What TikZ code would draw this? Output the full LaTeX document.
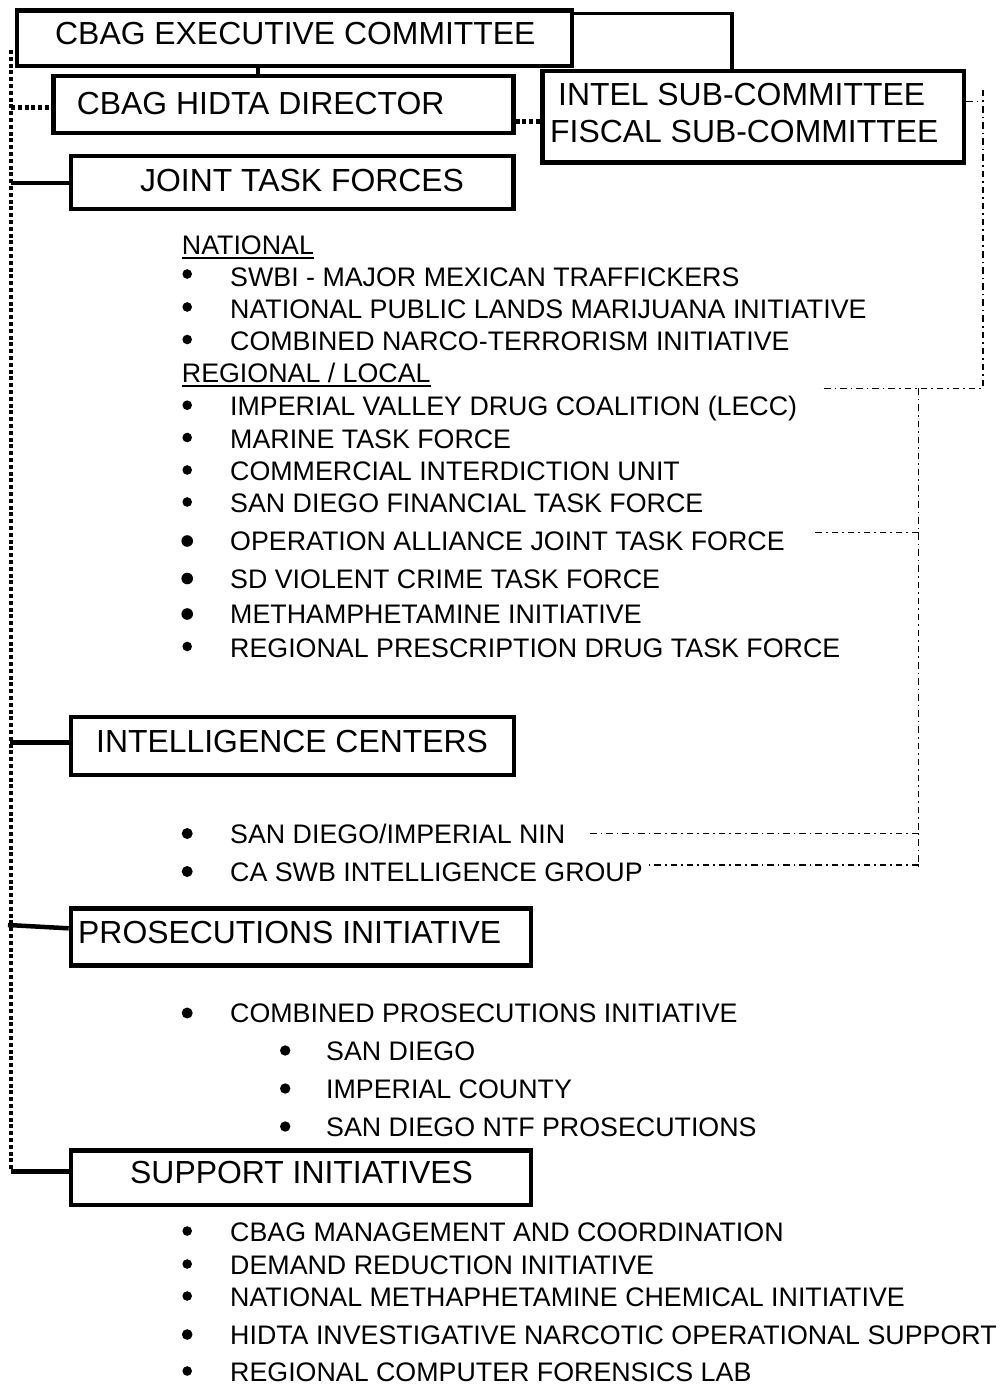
\documentclass[tikz,border=0pt]{standalone}
\usepackage{fontspec}
\setmainfont{Liberation Sans}
\newsavebox\ulbox
\newcommand\ulin[1]{\sbox\ulbox{#1}\rlap{\rule[-4.8pt]{\wd\ulbox}{2.2pt}}\usebox\ulbox}
% bullet: #1 radius, #2 raise of centre above baseline, #3 distance of centre left of text
\newcommand\bul[3]{\llap{\tikz[baseline=0pt]\fill (0pt,#2) circle[radius=#1];\hspace{\dimexpr#3-#1\relax}}}
\newcommand\titlefont{\fontsize{31.9pt}{36pt}\selectfont}
\newcommand\itemfont{\fontsize{26.8pt}{30pt}\selectfont}
\tikzset{
  box/.style={draw, line width=4.6pt, inner sep=0pt},
  ttl/.style={anchor=base west, inner sep=0pt, font=\titlefont},
  itm/.style={anchor=base west, inner sep=0pt, font=\itemfont},
  solidlink/.style={line width=4.5pt},
  thinlink/.style={line width=3.2pt},
  dotlink/.style={line width=4.8pt, dash pattern=on 4pt off 2.8pt},
  ddlink/.style={line width=1.5pt, dash pattern=on 6.5pt off 4pt on 1.6pt off 4pt},
}
\begin{document}
\begin{tikzpicture}[x=1pt,y=-1pt]
\useasboundingbox (0,0) rectangle (1007,1386);
% boxes
\node[box, minimum width=555pt, minimum height=55.7pt] (exec) at (294.5,38.2) {};
\node[box, minimum width=459.6pt, minimum height=57pt] (hidta) at (283.5,104.5) {};
\node[box, minimum width=442.3pt, minimum height=53pt] (jtf) at (292.2,182.5) {};
\node[box, minimum width=421.5pt, minimum height=91.5pt] (intel) at (753.3,116.8) {};
\node[box, minimum width=442.8pt, minimum height=58pt] (ic) at (292.4,746) {};
\node[box, minimum width=460pt, minimum height=57pt] (pros) at (301,937.2) {};
\node[box, minimum width=460pt, minimum height=54.5pt] (sup) at (301,1177.8) {};
% titles
\node[ttl] (exect) at (55,44.7) {CBAG EXECUTIVE COMMITTEE};
\node[ttl] (hidtat) at (76.7,114.7) {CBAG HIDTA DIRECTOR};
\node[ttl] (jtft) at (140,191.3) {JOINT TASK FORCES};
\node[ttl] (intelt1) at (558,105.3) {INTEL SUB-COMMITTEE};
\node[ttl] (intelt2) at (550,142.5) {FISCAL SUB-COMMITTEE};
\node[ttl] (ict) at (96,752) {INTELLIGENCE CENTERS};
\node[ttl] (prost) at (78,943.5) {PROSECUTIONS INITIATIVE};
\node[ttl] (supt) at (130,1183.5) {SUPPORT INITIATIVES};
% joint task forces list
\node[itm] (nat) at (181.7,254.3) {\ulin{NATIONAL}};
\node[itm] (n1) at (230,286.5) {\bul{4.8pt}{12.5pt}{43pt}SWBI - MAJOR MEXICAN TRAFFICKERS};
\node[itm] (n2) at (230,318.5) {\bul{4.8pt}{11.5pt}{43pt}NATIONAL PUBLIC LANDS MARIJUANA INITIATIVE};
\node[itm] (n3) at (230,350.5) {\bul{4.8pt}{11pt}{43pt}COMBINED NARCO-TERRORISM INITIATIVE};
\node[itm] (reg) at (181.7,382.3) {\ulin{REGIONAL / LOCAL}};
\node[itm] (r1) at (230,415.7) {\bul{4.8pt}{10.5pt}{43pt}IMPERIAL VALLEY DRUG COALITION (LECC)};
\node[itm] (r2) at (230,448) {\bul{4.8pt}{10.5pt}{43pt}MARINE TASK FORCE};
\node[itm] (r3) at (230,480.5) {\bul{4.8pt}{10.5pt}{43pt}COMMERCIAL INTERDICTION UNIT};
\node[itm] (r4) at (230,512.5) {\bul{4.8pt}{10.5pt}{43pt}SAN DIEGO FINANCIAL TASK FORCE};
\node[itm] (r5) at (230,550.5) {\bul{5.8pt}{9.5pt}{43pt}OPERATION ALLIANCE JOINT TASK FORCE};
\node[itm] (r6) at (230,588) {\bul{5.8pt}{9.5pt}{43pt}SD VIOLENT CRIME TASK FORCE};
\node[itm] (r7) at (230,623.5) {\bul{5.8pt}{9.5pt}{43pt}METHAMPHETAMINE INITIATIVE};
\node[itm] (r8) at (230,657) {\bul{4.8pt}{10.5pt}{43pt}REGIONAL PRESCRIPTION DRUG TASK FORCE};
% intelligence centers list
\node[itm] (i1) at (230,843) {\bul{5.5pt}{9.5pt}{43pt}SAN DIEGO/IMPERIAL NIN};
\node[itm] (i2) at (230,881) {\bul{5.5pt}{9.5pt}{43pt}CA SWB INTELLIGENCE GROUP};
% prosecutions list
\node[itm] (p1) at (230,1022.5) {\bul{5.5pt}{9.5pt}{43pt}COMBINED PROSECUTIONS INITIATIVE};
\node[itm] (p2) at (326,1060) {\bul{5.2pt}{9.5pt}{41pt}SAN DIEGO};
\node[itm] (p3) at (326,1098) {\bul{5.2pt}{9.5pt}{41pt}IMPERIAL COUNTY};
\node[itm] (p4) at (326,1136) {\bul{5.2pt}{9.5pt}{41pt}SAN DIEGO NTF PROSECUTIONS};
% support list
\node[itm] (s1) at (230,1241.5) {\bul{4.8pt}{10.5pt}{43pt}CBAG MANAGEMENT AND COORDINATION};
\node[itm] (s2) at (230,1274.5) {\bul{4.8pt}{10.5pt}{43pt}DEMAND REDUCTION INITIATIVE};
\node[itm] (s3) at (230,1306.5) {\bul{4.8pt}{10.5pt}{43pt}NATIONAL METHAPHETAMINE CHEMICAL INITIATIVE};
\node[itm] (s4) at (230,1344.5) {\bul{5.3pt}{10pt}{43pt}HIDTA INVESTIGATIVE NARCOTIC OPERATIONAL SUPPORT};
\node[itm] (s5) at (230,1381.5) {\bul{4.8pt}{10.5pt}{43pt}REGIONAL COMPUTER FORENSICS LAB};
% solid connectors at top
\draw[thinlink] (exec.south -| 258,0) -- (hidta.north -| 258,0);
\draw[thinlink] (exec.east |- 0,13.3) -- (732,13.3) -- (intel.north -| 732,0);
% dotted links
\draw[dotlink] (hidta.east |- 0,121.7) -- (intel.west |- 0,121.7);
\coordinate (spinetop) at (11,50);
\coordinate (spinebot) at (11,1170);
\draw[dotlink] (spinetop) -- (spinebot);
\draw[dotlink] (spinetop |- 0,107.3) -- (hidta.west |- 0,107.3);
% solid links from the spine
\draw[solidlink] (spinetop |- 0,183) -- (jtf.west |- 0,183);
\draw[solidlink] (10,742.7) -- (ic.west |- 0,742.7);
\draw[solidlink] (8,925) -- (pros.west |- 0,928.3);
\draw[solidlink] (spinebot |- 0,1171.7) -- (sup.west |- 0,1171.7);
% dash-dot links
\coordinate (ddtop) at (983,90);
\coordinate (ddcorner) at (983,388.3);
\coordinate (ddbranch) at (918.5,388.3);
\coordinate (ddbot) at (918.5,870);
\coordinate (ddlecc) at (820,388.3);
\coordinate (ddoper) at (815,532.7);
\coordinate (ddnin) at (586.7,833.3);
\coordinate (ddswb) at (646.7,865);
\draw[ddlink] (intel.east |- 0,101.5) -- (ddtop |- 0,101.5);
\draw[ddlink] (ddtop) -- (ddcorner) -- (ddlecc);
\draw[ddlink] (ddbranch) -- (ddbot);
\draw[ddlink] (ddbranch |- ddoper) -- (ddoper);
\draw[ddlink] (ddbranch |- ddnin) -- (ddnin);
\draw[ddlink] (ddbranch |- ddswb) -- (ddswb);
\end{tikzpicture}
\end{document}
